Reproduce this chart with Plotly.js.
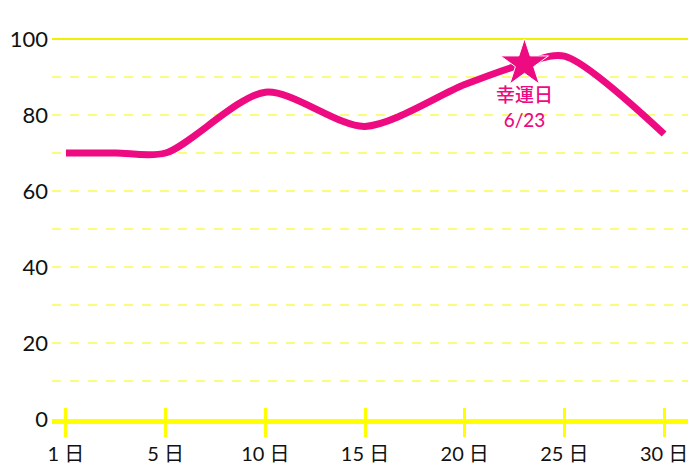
<!DOCTYPE html>
<html><head><meta charset="utf-8">
<script src="https://cdn.plot.ly/plotly-3.0.1.min.js"></script>
<style>html,body{margin:0;padding:0;background:#fff}#chart{width:700px;height:467px}</style>
</head><body><div id="chart"></div>
<script>
// Days shown as ticks on the x axis (evenly spaced in the original)
const tickDays = [1, 5, 10, 15, 20, 25, 30];
const tickLabels = ["1 日", "5 日", "10 日", "15 日", "20 日", "25 日", "30 日"];
// Line series
const days = [1, 3, 5, 10, 15, 20, 23, 25, 30];
const values = [70, 70, 70, 86, 77, 88, 93.5, 95.5, 75];
// Highlight
const luckyDay = 23;
const luckyValue = 93.5;
const luckyLabel = "幸運日<br>6/23";
const yTicks = [0, 20, 40, 60, 80, 100];

// axis scale: ticks evenly spaced, linear between ticks
function dayToPos(d) {
  for (let i = 0; i < tickDays.length - 1; i++) {
    if (d <= tickDays[i + 1]) return i + (d - tickDays[i]) / (tickDays[i + 1] - tickDays[i]);
  }
  return tickDays.length - 1;
}
const tickPos = tickDays.map(dayToPos);
const xs = days.map(dayToPos);
const magenta = "#ee0a80";
const fontFam = "Lato, 'Noto Sans CJK JP', sans-serif";

const traces = [
  { x: xs, y: values, mode: "lines", type: "scatter",
    line: { color: magenta, width: 7, shape: "spline", smoothing: 0.8 },
    hoverinfo: "skip", showlegend: false },
  { x: [dayToPos(luckyDay)], y: [luckyValue], mode: "markers", type: "scatter",
    marker: { symbol: "star", size: 36, color: magenta, line: { color: "#fff", width: 1 } },
    showlegend: false, xaxis: "x", yaxis: "y" }
];
const xrange = [-0.14, 6.24];
const layout = {
  width: 700, height: 467,
  margin: { l: 52, r: 12, t: 39, b: 48 },
  paper_bgcolor: "#fff", plot_bgcolor: "#fff",
  font: { family: fontFam, color: "#111", size: 19 },
  xaxis: {
    range: xrange, tickvals: tickPos, ticktext: tickLabels,
    showgrid: false, zeroline: false,
    showline: true, linecolor: "#ffff00", linewidth: 5,
    ticks: "outside", ticklen: 13, tickwidth: 3, tickcolor: "#ffff00",
    tickfont: { size: 20, color: "#111", family: fontFam }
  },
  xaxis2: {
    range: xrange, tickvals: tickPos, overlaying: "x", anchor: "y",
    showticklabels: false, showgrid: false, zeroline: false, showline: false,
    ticks: "inside", ticklen: 11, tickwidth: 3, tickcolor: "#ffff00"
  },
  yaxis: {
    range: [0, 100], tickvals: yTicks, showgrid: true,
    gridcolor: "#fbfb80", gridwidth: 1.5, griddash: "dash",
    minor: { dtick: 10, tick0: 0, showgrid: true, gridcolor: "#fbfb80", gridwidth: 1.5, griddash: "dash" },
    zeroline: false, showline: false, ticks: "", ticklabelstandoff: 3,
    tickfont: { size: 22, color: "#111", family: fontFam }
  },
  shapes: [
    { type: "line", xref: "paper", yref: "paper", x0: 0, x1: 1, y0: 1, y1: 1,
      line: { color: "#f0f000", width: 2 }, layer: "below" }
  ],
  annotations: [
    { x: dayToPos(luckyDay), y: luckyValue, xref: "x", yref: "y", text: luckyLabel,
      showarrow: false, yanchor: "top", yshift: -17,
      font: { size: 19, color: magenta, family: fontFam, weight: 500 }, align: "center" }
  ]
};
// dummy trace to activate xaxis2 ticks
traces.push({ x: [tickPos[0]], y: [null], xaxis: "x2", yaxis: "y", mode: "markers", showlegend: false, hoverinfo: "skip" });
Plotly.newPlot("chart", traces, layout, { displayModeBar: false, staticPlot: true });
</script></body></html>
